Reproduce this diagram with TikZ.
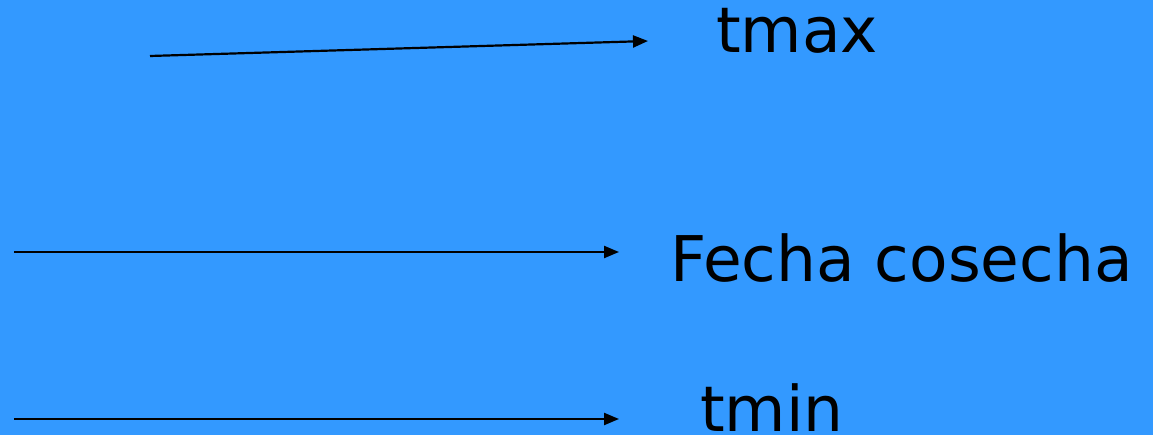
\documentclass[tikz,border=0pt]{standalone}
\usepackage{fontspec}
\setmainfont{DejaVu Sans}
\usetikzlibrary{arrows.meta}
\definecolor{bgblue}{RGB}{51,153,255}
\tikzset{
  arr/.style={line width=2.2pt,-{Triangle[length=15pt,width=12pt]}},
  lbl/.style={anchor=base west,inner sep=0pt,font=\fontsize{63}{68}\selectfont}
}
\begin{document}
\begin{tikzpicture}[x=1pt,y=-1pt]
\fill[bgblue] (0,0) rectangle (1153,435);
\useasboundingbox (0,0) rectangle (1153,435);
\node[lbl] (tmax) at (716,53) {tmax};
\node[lbl] (fecha) at (670,282) {Fecha cosecha};
\node[lbl] (tmin) at (700,431) {tmin};
\coordinate (s1) at (150,56);
\coordinate (e1) at (648,41);
\coordinate (s2) at (14,252);
\coordinate (e2) at (619,252);
\coordinate (s3) at (14,419);
\coordinate (e3) at (619,419);
\draw[arr] (s1) -- (e1);
\draw[arr] (s2) -- (e2);
\draw[arr] (s3) -- (e3);
\end{tikzpicture}
\end{document}
